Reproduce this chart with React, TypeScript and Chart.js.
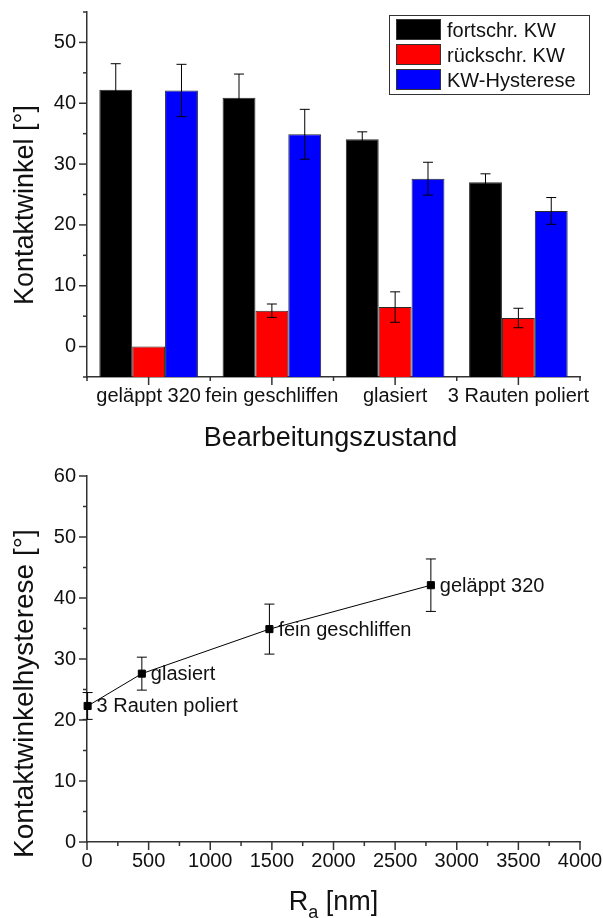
import { useEffect, useRef } from "react";
import { Chart, registerables } from "chart.js";

Chart.register(...registerables);

// ---------- data ----------
const categories = ["geläppt 320", "fein geschliffen", "glasiert", "3 Rauten poliert"];
const advancing = [42.2, 40.9, 34.1, 27.0];
const advancingErr = [4.3, 3.9, 1.2, 1.4];
const receding = [0, 5.9, 6.5, 4.7];
const recedingErr = [0, 1.1, 2.5, 1.6];
const hysteresis = [42.1, 34.9, 27.6, 22.3];
const hysteresisErr = [4.3, 4.1, 2.7, 2.2];
const roughnessRa = [2790, 1480, 445, 5];

const seriesLabels = ["fortschr. KW", "rückschr. KW", "KW-Hysterese"];
const seriesColors = ["#000000", "#ff0000", "#0000ff"];

const FONT = "'Liberation Sans', Arial, Helvetica, sans-serif";
const AXIS = "#333333";
const TEXT = "#111111";

// ---------- helper plugins ----------
function line(ctx: CanvasRenderingContext2D, x1: number, y1: number, x2: number, y2: number) {
  ctx.beginPath();
  ctx.moveTo(x1, y1);
  ctx.lineTo(x2, y2);
  ctx.stroke();
}

const errorBarPlugin = {
  id: "errorBars",
  afterDatasetsDraw(chart: any) {
    const ctx = chart.ctx;
    const ys = chart.scales.y;
    ctx.save();
    ctx.strokeStyle = "#000";
    ctx.lineWidth = 1;
    chart.data.datasets.forEach((ds: any, di: number) => {
      if (!ds.errors) return;
      const meta = chart.getDatasetMeta(di);
      meta.data.forEach((el: any, i: number) => {
        const raw = ds.data[i];
        const v = typeof raw === "number" ? raw : raw.y;
        const e = ds.errors[i];
        if (!e) return;
        const x = el.x;
        const yt = ys.getPixelForValue(v + e);
        const yb = ys.getPixelForValue(v - e);
        line(ctx, x, yt, x, yb);
        line(ctx, x - 5, yt, x + 5, yt);
        line(ctx, x - 5, yb, x + 5, yb);
      });
    });
    ctx.restore();
  },
};

function makeTickPlugin(kind: "category" | "linear", xMinorStep: number, xMajorStep: number, yMinorStep: number, yMajorStep: number) {
  return {
    id: "minorMajorTicks",
    afterDraw(chart: any) {
      const ctx = chart.ctx;
      const { left, bottom } = chart.chartArea;
      const xs = chart.scales.x;
      const ys = chart.scales.y;
      ctx.save();
      ctx.strokeStyle = AXIS;
      ctx.lineWidth = 1.5;
      for (let v = ys.min; v <= ys.max + 1e-9; v += yMinorStep) {
        const p = ys.getPixelForValue(v);
        const major = Math.abs(v / yMajorStep - Math.round(v / yMajorStep)) < 1e-6;
        line(ctx, left, p, left - (major ? 8 : 4), p);
      }
      if (kind === "category") {
        const n = chart.data.labels.length;
        const p0 = xs.getPixelForValue(0);
        const step = n > 1 ? xs.getPixelForValue(1) - p0 : 0;
        for (let i = 0; i < n; i++) {
          const p = xs.getPixelForValue(i);
          line(ctx, p, bottom, p, bottom + 8);
        }
        for (let i = 0; i <= n; i++) {
          const p = p0 - step / 2 + i * step;
          line(ctx, p, bottom, p, bottom + 4);
        }
      } else {
        for (let v = xs.min; v <= xs.max + 1e-9; v += xMinorStep) {
          const p = xs.getPixelForValue(v);
          const major = Math.abs(v / xMajorStep - Math.round(v / xMajorStep)) < 1e-6;
          line(ctx, p, bottom, p, bottom + (major ? 8 : 4));
        }
      }
      ctx.restore();
    },
  };
}

function makeTitlePlugin(yTitle: string, yTitleBottom: number, ySize: number, drawX: (ctx: CanvasRenderingContext2D, chart: any) => void) {
  return {
    id: "axisTitles",
    afterDraw(chart: any) {
      const ctx = chart.ctx;
      ctx.save();
      ctx.fillStyle = TEXT;
      ctx.font = `${ySize}px ${FONT}`;
      ctx.translate(33, yTitleBottom);
      ctx.rotate(-Math.PI / 2);
      ctx.textAlign = "left";
      ctx.textBaseline = "alphabetic";
      ctx.fillText(yTitle, 0, 0);
      ctx.restore();
      ctx.save();
      ctx.fillStyle = TEXT;
      drawX(ctx, chart);
      ctx.restore();
    },
  };
}

const legendPlugin = {
  id: "boxLegend",
  afterDraw(chart: any) {
    const ctx = chart.ctx;
    const { right, top } = chart.chartArea;
    const bx = right - 191;
    const by = top + 3;
    const bw = 200;
    const bh = 79;
    ctx.save();
    ctx.fillStyle = "#ffffff";
    ctx.fillRect(bx, by, bw, bh);
    ctx.strokeStyle = AXIS;
    ctx.lineWidth = 1;
    ctx.strokeRect(bx + 0.5, by + 0.5, bw, bh);
    ctx.font = `20px ${FONT}`;
    ctx.textBaseline = "middle";
    ctx.textAlign = "left";
    chart.data.datasets.forEach((ds: any, i: number) => {
      const cy = by + 15 + i * 25;
      ctx.fillStyle = ds.backgroundColor;
      ctx.fillRect(bx + 7, cy - 11, 45, 21);
      ctx.strokeStyle = "#333";
      ctx.strokeRect(bx + 7.5, cy - 10.5, 44, 20);
      ctx.fillStyle = TEXT;
      ctx.fillText(ds.label, bx + 58, cy + 1);
    });
    ctx.restore();
  },
};

const pointLabelPlugin = {
  id: "pointLabels",
  afterDatasetsDraw(chart: any) {
    const ctx = chart.ctx;
    ctx.save();
    ctx.fillStyle = TEXT;
    ctx.font = `20px ${FONT}`;
    ctx.textAlign = "left";
    ctx.textBaseline = "middle";
    chart.data.datasets.forEach((ds: any, di: number) => {
      if (!ds.pointTexts) return;
      const meta = chart.getDatasetMeta(di);
      meta.data.forEach((el: any, i: number) => {
        ctx.fillText(ds.pointTexts[i], el.x + 9, el.y + 1);
      });
    });
    ctx.restore();
  },
};

const fitX = (h: number) => (s: any) => {
  s.height = h;
  s.paddingLeft = 0;
  s.paddingRight = 0;
};
const fitY = (s: any) => {
  s.width = 87;
  s.paddingTop = 0;
  s.paddingBottom = 0;
};

// ---------- charts ----------
function BarChart() {
  const ref = useRef<HTMLCanvasElement | null>(null);
  useEffect(() => {
    if (!ref.current) return;
    const seriesValues = [advancing, receding, hysteresis];
    const seriesErrors = [advancingErr, recedingErr, hysteresisErr];
    const chart = new Chart(ref.current, {
      type: "bar",
      data: {
        labels: categories,
        datasets: seriesLabels.map((label, i) => ({
          label,
          data: seriesValues[i],
          errors: seriesErrors[i],
          backgroundColor: seriesColors[i],
          borderColor: "#2a2a2a",
          borderWidth: 1,
          base: -5,
          categoryPercentage: 0.8,
          barPercentage: 1.0,
        })) as any,
      },
      options: {
        responsive: false,
        animation: false,
        layout: { padding: { top: 12, right: 23, left: 0, bottom: 0 } },
        plugins: { legend: { display: false }, tooltip: { enabled: false } },
        scales: {
          x: {
            type: "category",
            offset: true,
            grid: { display: false, drawTicks: false },
            border: { color: AXIS, width: 1.5 },
            ticks: { color: TEXT, font: { family: FONT, size: 20 }, padding: 7, maxRotation: 0, minRotation: 0, autoSkip: false },
            afterFit: fitX(78),
          },
          y: {
            min: -5,
            max: 55,
            grid: { display: false, drawTicks: false },
            border: { color: AXIS, width: 1.5 },
            ticks: {
              stepSize: 5,
              color: TEXT,
              font: { family: FONT, size: 20 },
              padding: 11,
              callback: (v: any) => (Number(v) % 10 === 0 ? String(v) : ""),
            },
            afterFit: fitY,
          },
        },
      } as any,
      plugins: [
        errorBarPlugin,
        makeTickPlugin("category", 0, 0, 5, 10),
        makeTitlePlugin("Kontaktwinkel [°]", 305, 27, (ctx, ch) => {
          const { left, right } = ch.chartArea;
          ctx.font = `27px ${FONT}`;
          ctx.textAlign = "center";
          ctx.textBaseline = "alphabetic";
          ctx.fillText("Bearbeitungszustand", (left + right) / 2 - 3, 446);
        }),
        legendPlugin,
      ],
    });
    return () => chart.destroy();
  }, []);
  return <canvas ref={ref} width={603} height={455} style={{ display: "block" }} />;
}

function ScatterChart() {
  const ref = useRef<HTMLCanvasElement | null>(null);
  useEffect(() => {
    if (!ref.current) return;
    const chart = new Chart(ref.current, {
      type: "scatter",
      data: {
        datasets: [
          {
            label: "KW-Hysterese",
            data: roughnessRa.map((x, i) => ({ x, y: hysteresis[i] })),
            errors: hysteresisErr,
            pointTexts: categories,
            showLine: true,
            borderColor: "#000",
            borderWidth: 1,
            tension: 0,
            pointStyle: "rect",
            pointRadius: 5,
            pointBorderWidth: 1,
            pointBackgroundColor: "#000",
            pointBorderColor: "#000",
            clip: false,
          } as any,
        ],
      },
      options: {
        responsive: false,
        animation: false,
        layout: { padding: { top: 21, right: 23, left: 0, bottom: 0 } },
        plugins: { legend: { display: false }, tooltip: { enabled: false } },
        scales: {
          x: {
            type: "linear",
            min: 0,
            max: 4000,
            grid: { display: false, drawTicks: false },
            border: { color: AXIS, width: 1.5 },
            ticks: {
              stepSize: 500,
              color: TEXT,
              font: { family: FONT, size: 20 },
              padding: 7,
              maxRotation: 0,
              autoSkip: false,
              callback: (v: any) => String(v),
            },
            afterFit: fitX(76),
          },
          y: {
            min: 0,
            max: 60,
            grid: { display: false, drawTicks: false },
            border: { color: AXIS, width: 1.5 },
            ticks: { stepSize: 10, color: TEXT, font: { family: FONT, size: 20 }, padding: 11, callback: (v: any) => String(v) },
            afterFit: fitY,
          },
        },
      } as any,
      plugins: [
        errorBarPlugin,
        pointLabelPlugin,
        makeTickPlugin("linear", 250, 500, 5, 10),
        makeTitlePlugin("Kontaktwinkelhysterese [°]", 403, 28, (ctx, ch) => {
          const { left, right } = ch.chartArea;
          const big = `27px ${FONT}`;
          const small = `18px ${FONT}`;
          ctx.textAlign = "left";
          ctx.textBaseline = "alphabetic";
          ctx.font = big;
          const wR = ctx.measureText("R").width;
          const wRest = ctx.measureText(" [nm]").width;
          ctx.font = small;
          const wA = ctx.measureText("a").width;
          const total = wR + wA + wRest;
          let x = (left + right) / 2 - total / 2;
          const base = 455;
          ctx.font = big;
          ctx.fillText("R", x, base);
          x += wR;
          ctx.font = small;
          ctx.fillText("a", x, base + 8);
          x += wA;
          ctx.font = big;
          ctx.fillText(" [nm]", x, base);
        }),
      ],
    });
    return () => chart.destroy();
  }, []);
  return <canvas ref={ref} width={603} height={463} style={{ display: "block" }} />;
}

export default function App() {
  return (
    <div style={{ position: "absolute", left: 0, top: 0, width: 603, height: 918, background: "#fff" }}>
      <BarChart />
      <ScatterChart />
    </div>
  );
}
